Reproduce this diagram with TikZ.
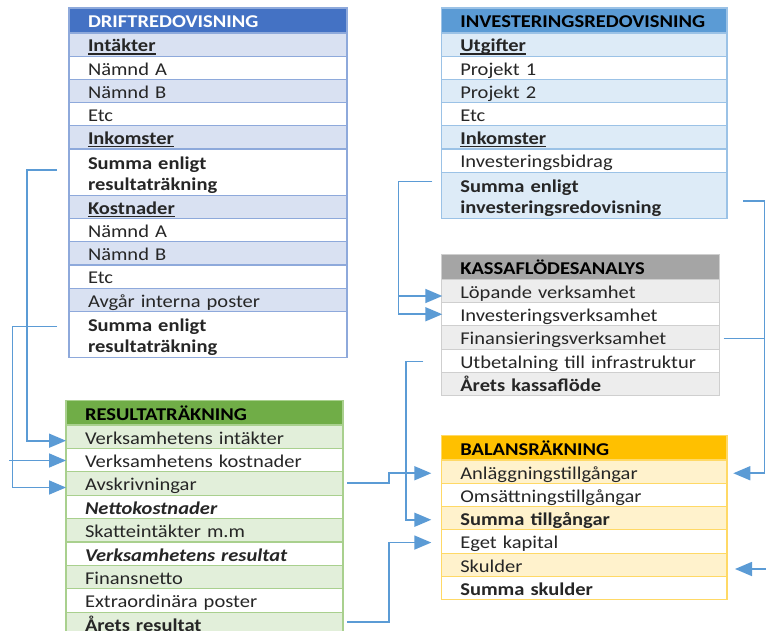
\documentclass[tikz,border=0pt]{standalone}
\usepackage{fontspec}
\setmainfont{Carlito}[FakeStretch=1.14]
\usetikzlibrary{arrows.meta,calc}
\definecolor{dHead}{HTML}{4472C4}
\definecolor{dAlt}{HTML}{D9E1F2}
\definecolor{dBorder}{HTML}{8EA9DB}
\definecolor{iHead}{HTML}{5B9BD5}
\definecolor{iAlt}{HTML}{DDEBF7}
\definecolor{iBorder}{HTML}{9BC2E6}
\definecolor{rHead}{HTML}{70AD47}
\definecolor{rAlt}{HTML}{E2EFDA}
\definecolor{rBorder}{HTML}{A9D08E}
\definecolor{kHead}{HTML}{A5A5A5}
\definecolor{kAlt}{HTML}{EDEDED}
\definecolor{kBorder}{HTML}{CFCFCF}
\definecolor{bHead}{HTML}{FFC000}
\definecolor{bAlt}{HTML}{FFF2CC}
\definecolor{bBorder}{HTML}{FFD966}
\definecolor{cBlue}{HTML}{5B9BD5}
\definecolor{txt}{HTML}{262626}
\newcommand\cellfont{\fontsize{18}{21.4}\selectfont}
\newcommand\ub[1]{\setbox0\hbox{\textbf{#1}}\rlap{\rule[-2.6pt]{\wd0}{1.2pt}}\box0}
\begin{document}
\begin{tikzpicture}[x=1pt,y=-1pt,
  cell/.style={draw, anchor=north west, outer sep=0pt, inner ysep=0pt, inner xsep=19pt,
    align=left, text height=18.7pt, text depth=4pt, minimum height=23.2pt,
    font=\cellfont, text=txt, line width=1.1pt},
  headcell/.style={minimum height=25pt, text height=18.4pt, text depth=4pt, font=\cellfont\bfseries, text=black},
  two/.style={text height=15pt, text depth=21pt, minimum height=46.4pt},
  dcell/.style={draw=dBorder, text width=240pt, minimum width=278pt},
  icell/.style={draw=iBorder, text width=247.7pt, minimum width=285.7pt},
  rcell/.style={draw=rBorder, text width=239pt, minimum width=277pt, minimum height=23.4pt},
  kcell/.style={draw=kBorder, text width=240.4pt, minimum width=278.4pt, minimum height=23.3pt},
  bcell/.style={draw=bBorder, text width=247.7pt, minimum width=285.7pt, minimum height=23.3pt},
  conn/.style={draw=cBlue, line width=1.6pt},
  arr/.style={conn, -{Triangle[length=17pt,width=14pt]}}
]
\useasboundingbox (0,0) rectangle (766,631);
\fill[white] (0,0) rectangle (766,631);

% DRIFTREDOVISNING
\node[cell,dcell,headcell,fill=dHead,text=white] (dh) at (69,8) {DRIFTREDOVISNING};
\node[cell,dcell,fill=dAlt] (d1) at (dh.south west) {\ub{Intäkter}};
\node[cell,dcell,fill=white] (d2) at (d1.south west) {Nämnd A};
\node[cell,dcell,fill=dAlt] (d3) at (d2.south west) {Nämnd B};
\node[cell,dcell,fill=white] (d4) at (d3.south west) {Etc};
\node[cell,dcell,fill=dAlt] (d5) at (d4.south west) {\ub{Inkomster}};
\node[cell,dcell,two,fill=white] (ds1) at (d5.south west) {\textbf{Summa enligt}\\\textbf{resultaträkning}};
\node[cell,dcell,fill=dAlt] (d6) at (ds1.south west) {\ub{Kostnader}};
\node[cell,dcell,fill=white] (d7) at (d6.south west) {Nämnd A};
\node[cell,dcell,fill=dAlt] (d8) at (d7.south west) {Nämnd B};
\node[cell,dcell,fill=white] (d9) at (d8.south west) {Etc};
\node[cell,dcell,fill=dAlt] (d10) at (d9.south west) {Avgår interna poster};
\node[cell,dcell,two,fill=white] (ds2) at (d10.south west) {\textbf{Summa enligt}\\\textbf{resultaträkning}};

% INVESTERINGSREDOVISNING
\node[cell,icell,headcell,fill=iHead] (ih) at (441.3,8) {INVESTERINGSREDOVISNING};
\node[cell,icell,fill=iAlt] (i1) at (ih.south west) {\ub{Utgifter}};
\node[cell,icell,fill=white] (i2) at (i1.south west) {Projekt 1};
\node[cell,icell,fill=iAlt] (i3) at (i2.south west) {Projekt 2};
\node[cell,icell,fill=white] (i4) at (i3.south west) {Etc};
\node[cell,icell,fill=iAlt] (i5) at (i4.south west) {\ub{Inkomster}};
\node[cell,icell,fill=white] (i6) at (i5.south west) {Investeringsbidrag};
\node[cell,icell,two,fill=iAlt] (is7) at (i6.south west) {\textbf{Summa enligt}\\\textbf{investeringsredovisning}};

% KASSAFLÖDESANALYS
\node[cell,kcell,headcell,fill=kHead] (kh) at (441.3,254.3) {KASSAFLÖDESANALYS};
\node[cell,kcell,fill=kAlt] (k1) at (kh.south west) {Löpande verksamhet};
\node[cell,kcell,fill=white] (k2) at (k1.south west) {Investeringsverksamhet};
\node[cell,kcell,fill=kAlt] (k3) at (k2.south west) {Finansieringsverksamhet};
\node[cell,kcell,fill=white] (k4) at (k3.south west) {Utbetalning till infrastruktur};
\node[cell,kcell,fill=kAlt] (k5) at (k4.south west) {\textbf{Årets kassaflöde}};

% BALANSRÄKNING
\node[cell,bcell,headcell,fill=bHead,minimum height=24.3pt] (bh) at (441.3,435.7) {BALANSRÄKNING};
\node[cell,bcell,fill=bAlt] (b1) at (bh.south west) {Anläggningstillgångar};
\node[cell,bcell,fill=white] (b2) at (b1.south west) {Omsättningstillgångar};
\node[cell,bcell,fill=bAlt] (b3) at (b2.south west) {\textbf{Summa tillgångar}};
\node[cell,bcell,fill=white] (b4) at (b3.south west) {Eget kapital};
\node[cell,bcell,fill=bAlt] (b5) at (b4.south west) {Skulder};
\node[cell,bcell,fill=white] (b6) at (b5.south west) {\textbf{Summa skulder}};

% RESULTATRÄKNING
\node[cell,rcell,headcell,fill=rHead,minimum height=24.3pt] (rh) at (66,400.7) {RESULTATRÄKNING};
\node[cell,rcell,fill=rAlt] (ri1) at (rh.south west) {Verksamhetens intäkter};
\node[cell,rcell,fill=white] (ri2) at (ri1.south west) {Verksamhetens kostnader};
\node[cell,rcell,fill=rAlt] (ri3) at (ri2.south west) {Avskrivningar};
\node[cell,rcell,fill=white] (ri4) at (ri3.south west) {\textbf{\textit{Nettokostnader}}};
\node[cell,rcell,fill=rAlt] (ri5) at (ri4.south west) {Skatteintäkter m.m};
\node[cell,rcell,fill=white] (ri6) at (ri5.south west) {\textbf{\textit{Verksamhetens resultat}}};
\node[cell,rcell,fill=rAlt] (ri7) at (ri6.south west) {Finansnetto};
\node[cell,rcell,fill=white] (ri8) at (ri7.south west) {Extraordinära poster};
\node[cell,rcell,fill=rAlt] (ri9) at (ri8.south west) {\textbf{Årets resultat}};

% connectors
\draw[arr] ($(ds1.west)+(-12,-2)$) -- ++(-30,0) |- ($(ri1.west)+(0,4)$);
\draw[arr] ($(ds2.west)+(-12,-8)$) -- ++(-44.5,0) |- ($(ri3.west)+(0,4)$);
\coordinate (c2b) at (9,460.5);
\draw[arr] (c2b) -- (c2b -| ri2.west);
\draw[arr] ($(ri3.east)+(4,-0.8)$) -- ++(42,0) |- ($(b1.west)+(-10,1.6)$);
\draw[arr] ($(ri9.east)+(4,-2)$) -- ++(42,0) |- ($(b4.west)+(-10,1)$);
\draw[arr] ($(is7.west)+(-9,-14)$) -- ++(-34,0) |- ($(k2.west)+(1,0)$);
\coordinate (c5b) at (398.3,296);
\draw[arr] (c5b) -- ($(c5b -| k1.west)+(1,0)$);
\draw[arr] ($(is7.east)+(16.3,5.6)$) -- ++(21,0) |- ($(b1.east)+(6.3,1.6)$);
\draw[conn] ($(k3.east)+(4,1)$) -- ++(40.6,0);
\draw[arr] ($(k4.west)+(-18,0.7)$) -- ++(-17.6,0) |- ($(b3.west)+(-10,1.5)$);
\coordinate (c8s) at (770,569);
\draw[arr] (c8s) -- (c8s -| {$(b5.east)+(8,0)$});
\end{tikzpicture}
\end{document}
